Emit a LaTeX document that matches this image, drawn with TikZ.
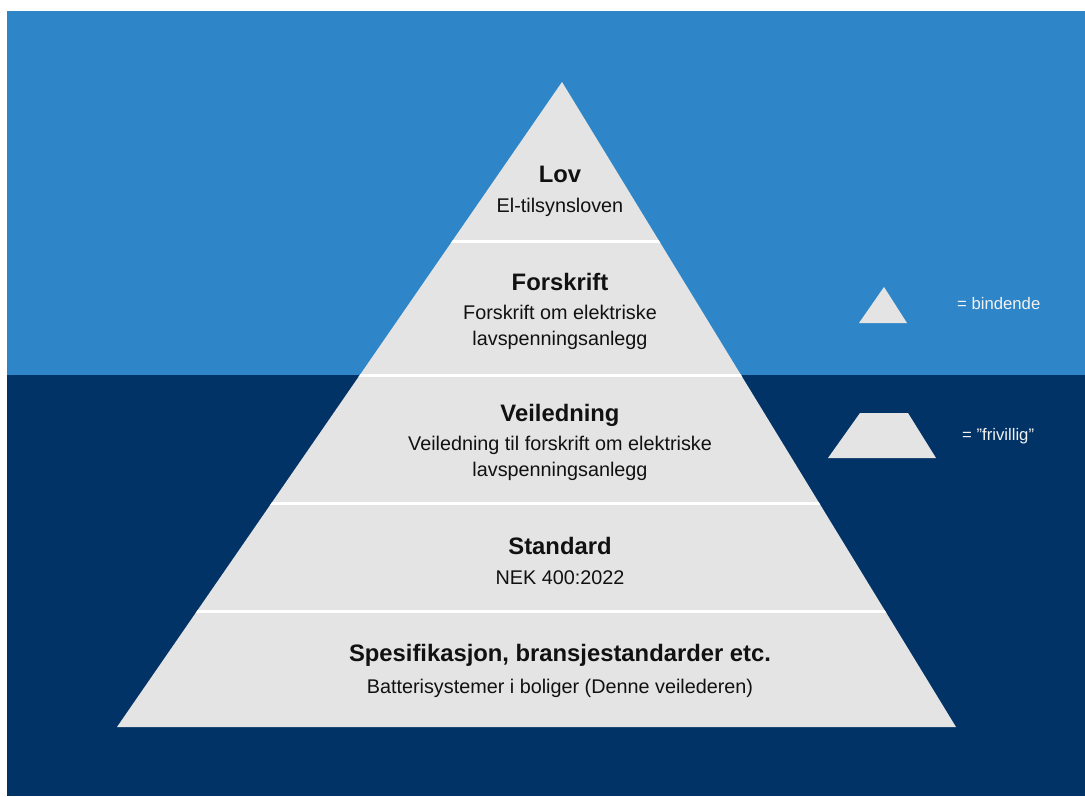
\documentclass[tikz,border=0pt]{standalone}
\usepackage{fontspec}
\setmainfont{Liberation Sans}
\definecolor{skyblue}{HTML}{2E86C8}
\definecolor{deepblue}{HTML}{023366}
\definecolor{slab}{HTML}{E4E4E4}
\definecolor{ink}{HTML}{111111}
\definecolor{legendtext}{HTML}{F2F2F2}
\tikzset{
  title/.style={anchor=base,text=ink,inner sep=0pt,font=\fontsize{23.8}{28}\selectfont\bfseries},
  body/.style={anchor=base,text=ink,inner sep=0pt,font=\fontsize{19.8}{24}\selectfont},
  legend/.style={anchor=base west,text=legendtext,inner sep=0pt,font=\fontsize{16.7}{20}\selectfont},
  divider/.style={white,line width=3pt},
}
\begin{document}
\begin{tikzpicture}[x=1pt,y=-1pt]
  \useasboundingbox (0,0) rectangle (1085,796);
  % sea and sky
  \fill[white] (0,0) rectangle (1085,796);
  \fill[skyblue] (7,11) rectangle (1085,375);
  \fill[deepblue] (7,375) rectangle (1085,796);

  % pyramid
  \coordinate (apex) at (562,82);
  \coordinate (baseL) at (117,727);
  \coordinate (baseR) at (956,727);
  \fill[slab] (apex) -- (baseR) -- (baseL) -- cycle;
  \begin{scope}
    \clip (apex) -- (baseR) -- (baseL) -- cycle;
    \foreach \yy in {241.5,375,503,611.5}
      \draw[divider] (100,\yy) -- (1000,\yy);
  \end{scope}

  % level texts
  \node[title] (lov) at (560,182) {Lov};
  \node[body] (lovtxt) at (560,212) {El-tilsynsloven};

  \node[title] (forskrift) at (560,290) {Forskrift};
  \node[body] (forskrifttxt1) at (560,319) {Forskrift om elektriske};
  \node[body] (forskrifttxt2) at (560,345) {lavspenningsanlegg};

  \node[title] (veil) at (560,421) {Veiledning};
  \node[body] (veiltxt1) at (560,450) {Veiledning til forskrift om elektriske};
  \node[body] (veiltxt2) at (560,476) {lavspenningsanlegg};

  \node[title] (std) at (560,554) {Standard};
  \node[body] (stdtxt) at (560,584) {NEK 400:2022};

  \node[title] (spes) at (560,661) {Spesifikasjon, bransjestandarder etc.};
  \node[body] (spestxt) at (560,693) {Batterisystemer i boliger (Denne veilederen)};

  % legend
  \fill[slab] (884,287) -- (907,323) -- (859,323) -- cycle;
  \node[legend] (bind) at (957,309) {= bindende};
  \fill[slab] (860,413) -- (908,413) -- (936,458) -- (828,458) -- cycle;
  \node[legend] (friv) at (962,440) {= ”frivillig”};
\end{tikzpicture}
\end{document}
